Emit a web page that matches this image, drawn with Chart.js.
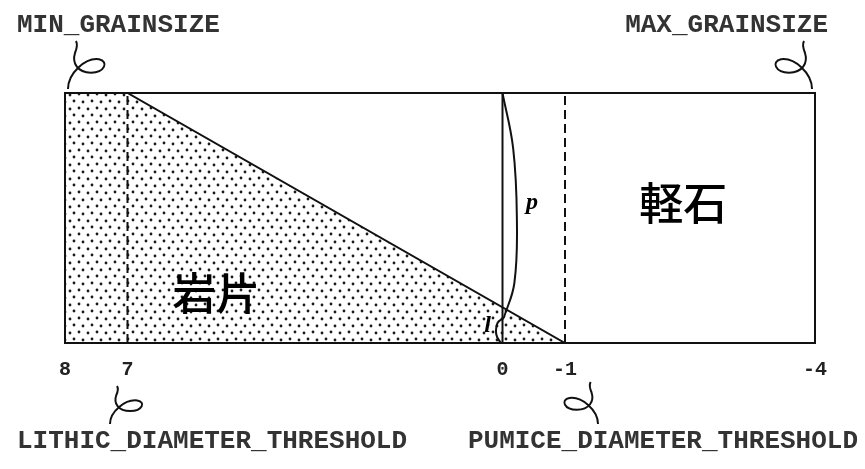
<!DOCTYPE html>
<html>
<head>
<meta charset="utf-8">
<script src="https://cdn.jsdelivr.net/npm/chart.js@4.4.0/dist/chart.umd.min.js"></script>
<style>html,body{margin:0;background:#fff}</style>
</head>
<body>
<canvas id="c" width="865" height="469"></canvas>
<script>
// schematic x positions (the box is 12 units wide) and the phi labels shown there
const tickPos = [0, 1, 7, 8, 12];
const tickLabels = ['8', '7', '0', '-1', '-4'];

// lithic wedge: top edge then the diagonal down to the pumice threshold
const lithicX = [0, 1, 8];
const lithicY = [1, 1, 0];

const lithicThreshold = 1;  // dashed
const zeroLine = 7;         // solid
const pumiceThreshold = 8;  // dashed

// brackets marking p and l
const pX = [7, 7.17, 7.23, 7.19, 7.02];
const pY = [1, 0.78, 0.5, 0.24, 0.1];
const lX = [7.02, 6.92, 6.9, 6.96, 7.0];
const lY = [0.1, 0.08, 0.035, 0.005, 0];

// text inside the box
const regionNames = ['岩片', '軽石'];
const regionX = [2.42, 9.89];
const regionY = [0.2, 0.56];
const symNames = ['p', 'l'];
const symX = [7.47, 6.76];
const symY = [0.56, 0.07];

const ctx = document.getElementById('c').getContext('2d');

function dotPattern() {
    const c = document.createElement('canvas');
    c.width = 18; c.height = 14;
    const g = c.getContext('2d');
    g.fillStyle = '#fff';
    g.fillRect(0, 0, 18, 14);
    g.fillStyle = '#1a1a1a';
    [[2, 3], [11, 4], [7, 10], [16, 11]].forEach(([x, y]) => {
        g.beginPath();
        g.arc(x, y, 1.4, 0, Math.PI * 2);
        g.fill();
    });
    return ctx.createPattern(c, 'repeat');
}

const pts = (xs, ys) => xs.map((x, i) => ({x: x, y: ys[i]}));
const vline = x => [{x: x, y: 0}, {x: x, y: 1}];

// little curly connectors, unit shape: anchor at (0,0), tip at (0,-1)
const curlShape = [[0, 0], [0, -0.33], [0.35, -0.66], [0.62, -0.62], [0.82, -0.58], [0.74, -0.34], [0.46, -0.34],
    [0.18, -0.34], [0.08, -0.55], [0.14, -0.75], [0.18, -0.85], [0.2, -0.92], [0.16, -1]];
function curl(c, ax, ay, sx, sy) {
    const p = curlShape.map(([u, v]) => [ax + u * sx, ay + v * sy]);
    c.beginPath();
    c.moveTo(p[0][0], p[0][1]);
    for (let i = 1; i < p.length; i += 3) {
        c.bezierCurveTo(p[i][0], p[i][1], p[i + 1][0], p[i + 1][1], p[i + 2][0], p[i + 2][1]);
    }
    c.stroke();
}

const decor = {
    id: 'decor',
    afterDraw(chart) {
        const c = chart.ctx, a = chart.chartArea;
        const xs = chart.scales.x, ys = chart.scales.y;
        c.save();
        c.strokeStyle = '#111';
        c.lineWidth = 2;
        c.strokeRect(a.left, a.top, a.right - a.left, a.bottom - a.top);

        c.fillStyle = '#000';
        c.textAlign = 'center';
        c.textBaseline = 'middle';
        c.font = '500 44px "Noto Sans CJK JP"';
        regionNames.forEach((t, i) => c.fillText(t, xs.getPixelForValue(regionX[i]), ys.getPixelForValue(regionY[i])));
        c.font = 'italic bold 24px "Liberation Serif"';
        symNames.forEach((t, i) => c.fillText(t, xs.getPixelForValue(symX[i]), ys.getPixelForValue(symY[i])));

        c.fillStyle = '#333';
        c.textBaseline = 'alphabetic';
        c.font = 'bold 26px "Liberation Mono"';
        c.textAlign = 'left';
        c.fillText('MIN_GRAINSIZE', 17, 32);
        c.fillText('LITHIC_DIAMETER_THRESHOLD', 17, 448);
        c.textAlign = 'right';
        c.fillText('MAX_GRAINSIZE', 828, 32);
        c.fillText('PUMICE_DIAMETER_THRESHOLD', 858, 448);

        c.lineWidth = 2;
        c.strokeStyle = '#111';
        curl(c, 68, 89, 50, 48);
        curl(c, 812, 89, -50, 48);
        curl(c, 110, 424, 44, 38);
        curl(c, 598, 424, -46, 42);
        c.restore();
    }
};

const line = {borderColor: '#111', borderWidth: 2, pointRadius: 0, fill: false};

new Chart(ctx, {
    type: 'line',
    data: {
        datasets: [
            Object.assign({}, line, {data: pts(lithicX, lithicY), fill: 'origin', backgroundColor: dotPattern()}),
            Object.assign({}, line, {data: vline(lithicThreshold), borderDash: [9, 5]}),
            Object.assign({}, line, {data: vline(pumiceThreshold), borderDash: [9, 5]}),
            Object.assign({}, line, {data: vline(zeroLine)}),
            Object.assign({}, line, {data: pts(pX, pY), tension: 0.4}),
            Object.assign({}, line, {data: pts(lX, lY), tension: 0.4})
        ]
    },
    options: {
        responsive: false,
        animation: false,
        layout: {padding: {left: 65, right: 50, top: 93, bottom: 0}},
        plugins: {
            legend: {display: false},
            tooltip: {enabled: false},
            filler: {drawTime: 'beforeDatasetsDraw'}
        },
        scales: {
            x: {
                type: 'linear',
                min: 0,
                max: 12,
                afterBuildTicks: s => { s.ticks = tickPos.map(v => ({value: v})); },
                afterFit: s => { s.height = 126; },
                grid: {display: false, drawTicks: false},
                border: {display: false},
                ticks: {
                    callback: (v, i) => tickLabels[i],
                    font: {family: 'Liberation Mono', size: 20, weight: 'bold'},
                    color: '#222',
                    padding: 15,
                    maxRotation: 0,
                    autoSkip: false
                }
            },
            y: {min: 0, max: 1, display: false}
        }
    },
    plugins: [decor]
});
</script>
</body>
</html>
